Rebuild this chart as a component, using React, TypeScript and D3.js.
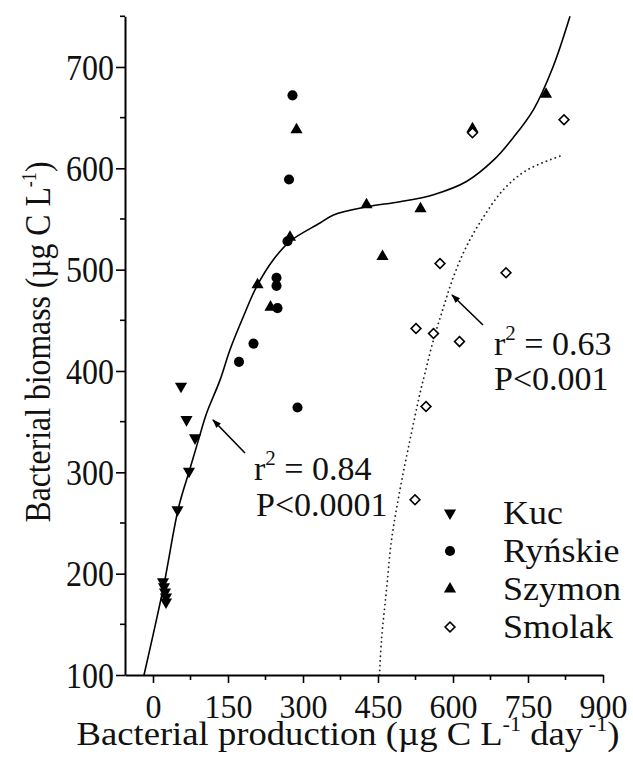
import React, { useEffect, useRef } from 'react';
import * as d3 from 'd3';

const W = 633, H = 767;
const FONT = "'Liberation Serif', serif";

// data: [production, biomass]
const kuc = [[56, 385], [67, 352], [84, 334], [72, 301], [49, 263], [20, 192], [22, 187], [24, 182], [26, 177], [26, 172]];
const rynskie = [[279, 672], [272, 589], [269, 528], [247, 492], [247, 484], [249, 462], [201, 427], [172, 409], [289, 364]];
const szymon = [[287, 638], [274, 532], [209, 485], [235, 463], [427, 564], [535, 560], [459, 513], [786, 673], [639, 639]];
const smolak = [[639, 635], [822, 648], [574, 506], [706, 497], [526, 442], [561, 437], [613, 429], [546, 365], [524, 273]];

// fitted curves
const fitAll = [[-18, 100], [21, 187], [51, 265], [73, 302], [91, 332], [107, 358], [134, 391], [154, 421], [181, 454], [207, 483], [241, 510], [274, 528], [334, 546], [361, 554], [427, 562], [494, 567], [561, 574], [627, 587], [681, 608], [720, 630], [761, 658], [800, 700], [834, 750]];
const fitSmolak = [[453, 100], [457, 135], [467, 184], [477, 233], [494, 283], [514, 332], [534, 378], [544, 398], [561, 431], [581, 463], [601, 493], [627, 523], [661, 552], [701, 579], [747, 598], [814, 612]];

const xMajor = [0, 150, 300, 450, 600, 750, 900];
const xMinor = [75, 225, 375, 525, 675, 825];
const yMajor = [100, 200, 300, 400, 500, 600, 700];
const yMinor = [150, 250, 350, 450, 550, 650, 750];

const legend = [
  { name: 'Kuc', sym: 'down' },
  { name: 'Ryńskie', sym: 'circle' },
  { name: 'Szymon', sym: 'up' },
  { name: 'Smolak', sym: 'diamond' },
];

const x = d3.scaleLinear().domain([-56, 900]).range([125, 603]);
const y = d3.scaleLinear().domain([100, 750]).range([675, 16.3]);

const triPath = d3.symbol().type(d3.symbolTriangle).size(64)();
const circPath = d3.symbol().type(d3.symbolCircle).size(80)();
const sqPath = d3.symbol().type(d3.symbolSquare).size(48)();

function Marker({ sym, cx, cy }: { sym: string; cx: number; cy: number }) {
  if (sym === 'down') return <path d={triPath!} transform={`translate(${cx},${cy}) rotate(180)`} fill="#000" />;
  if (sym === 'up') return <path d={triPath!} transform={`translate(${cx},${cy})`} fill="#000" />;
  if (sym === 'circle') return <path d={circPath!} transform={`translate(${cx},${cy})`} fill="#000" />;
  return <path d={sqPath!} transform={`translate(${cx},${cy}) rotate(45)`} fill="#fff" stroke="#000" strokeWidth={1.6} />;
}

// text with its baseline at (tx, ty); sy stretches it vertically like the scan
function T({ tx, ty, size = 34, sy = 1, anchor = 'start', len, children }: any) {
  return (
    <g transform={`translate(${tx},${ty}) scale(1,${sy})`}>
      <text style={{ fontFamily: FONT }} fontSize={size} fill="#111" textAnchor={anchor}
        textLength={len} lengthAdjust={len ? 'spacingAndGlyphs' : undefined}>{children}</text>
    </g>
  );
}

export default function App() {
  const xAxisRef = useRef<SVGGElement>(null);
  const yAxisRef = useRef<SVGGElement>(null);

  useEffect(() => {
    const style = (g: any) => {
      g.attr('font-family', null);
      g.selectAll('path.domain').attr('stroke', '#000').attr('stroke-width', 2);
      g.selectAll('line').attr('stroke', '#000').attr('stroke-width', 1.6);
      g.selectAll('text').style('font-family', FONT).attr('font-size', 32).attr('fill', '#111');
    };
    const xa = d3.select(xAxisRef.current!);
    xa.selectAll('*').remove();
    xa.call(d3.axisBottom(x).tickValues(xMajor).tickSize(8).tickSizeOuter(0) as any);
    xa.append('g').selectAll('line').data(xMinor).join('line')
      .attr('x1', d => x(d)).attr('x2', d => x(d)).attr('y1', 0).attr('y2', 5);
    style(xa);
    xa.selectAll('.tick text').attr('y', null).attr('dy', null)
      .attr('transform', 'translate(0,43) scale(1,1.06)');

    const ya = d3.select(yAxisRef.current!);
    ya.selectAll('*').remove();
    ya.call(d3.axisLeft(y).tickValues(yMajor).tickSize(9).tickSizeOuter(0) as any);
    ya.append('g').selectAll('line').data(yMinor).join('line')
      .attr('y1', d => y(d)).attr('y2', d => y(d)).attr('x1', 0).attr('x2', -5);
    style(ya);
    ya.selectAll('.tick text').attr('x', null).attr('dy', '0.34em')
      .attr('transform', 'translate(-11,0) scale(1,1.13)');
  }, []);

  const line = d3.line<number[]>().x(d => x(d[0])).y(d => y(d[1])).curve(d3.curveCatmullRom);

  const series = [
    { pts: kuc, sym: 'down' },
    { pts: rynskie, sym: 'circle' },
    { pts: szymon, sym: 'up' },
    { pts: smolak, sym: 'diamond' },
  ];

  return (
    <svg width={W} height={H} style={{ position: 'absolute', left: 0, top: 0, background: '#fff' }}>
      <defs>
        <marker id="ah" viewBox="0 0 10 10" refX="9" refY="5" markerWidth="9" markerHeight="9" orient="auto-start-reverse" markerUnits="userSpaceOnUse">
          <path d="M0,1.5 L10,5 L0,8.5 Z" fill="#000" />
        </marker>
      </defs>

      <path d={line(fitAll as any)!} fill="none" stroke="#000" strokeWidth={1.6} />
      <path d={line(fitSmolak as any)!} fill="none" stroke="#222" strokeWidth={1.8} strokeDasharray="0.1 4.6" strokeLinecap="round" />

      {series.map(s => s.pts.map((p, i) => (
        <Marker key={s.sym + i} sym={s.sym} cx={x(p[0])} cy={y(p[1])} />
      )))}

      <g ref={xAxisRef} transform={`translate(0,${y(100)})`} />
      <g ref={yAxisRef} transform={`translate(${x(-56)},0)`} />

      {/* annotations */}
      <line x1={245} y1={453} x2={213} y2={420} stroke="#000" strokeWidth={1.6} markerEnd="url(#ah)" />
      <line x1={483} y1={325} x2={452} y2={295} stroke="#000" strokeWidth={1.6} markerEnd="url(#ah)" />
      <T tx={254} ty={480}>r<tspan fontSize={21} dy={-15}>2</tspan><tspan dy={15}> = 0.84</tspan></T>
      <T tx={256} ty={516}>P&lt;0.0001</T>
      <T tx={494} ty={355}>r<tspan fontSize={21} dy={-15}>2</tspan><tspan dy={15}> = 0.63</tspan></T>
      <T tx={494} ty={390}>P&lt;0.001</T>

      {/* legend */}
      {legend.map((l, i) => (
        <g key={l.name} transform={`translate(0,${513 + i * 38})`}>
          <Marker sym={l.sym} cx={450} cy={0} />
          <T tx={503} ty={11} size={36} sy={0.95}>{l.name}</T>
        </g>
      ))}

      {/* axis titles */}
      <g transform="translate(50,342) rotate(-90)">
        <text textAnchor="middle" style={{ fontFamily: FONT }} fontSize={35} fill="#111" textLength={361} lengthAdjust="spacingAndGlyphs">
          Bacterial biomass (µg C L<tspan fontSize={20} dy={-14}>-1</tspan><tspan dy={14}>)</tspan>
        </text>
      </g>
      <T tx={348} ty={745} size={33} anchor="middle" len={543}>
        Bacterial production (µg C L<tspan fontSize={20} dy={-14}>-1</tspan><tspan dy={14}> day</tspan><tspan fontSize={20} dy={-14}> -1</tspan><tspan dy={14}>)</tspan>
      </T>
    </svg>
  );
}
